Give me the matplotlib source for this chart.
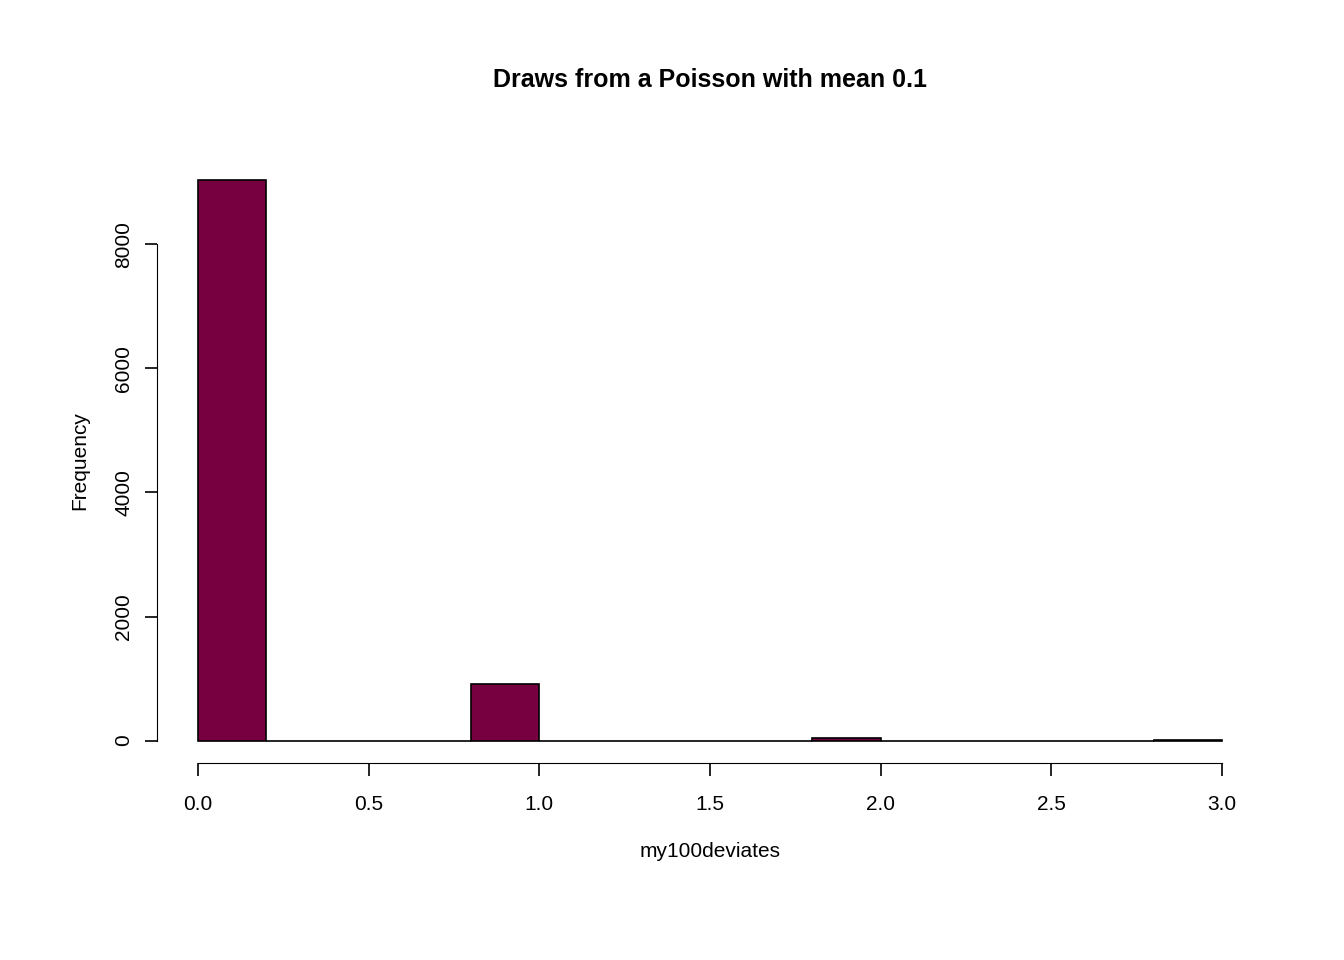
import matplotlib
matplotlib.use("Agg")
import matplotlib.pyplot as plt
import numpy as np

bin_edges = [round(0.2*i, 1) for i in range(16)]
counts = [9031, 0, 0, 0, 918, 0, 0, 0, 0, 45, 0, 0, 0, 0, 3]
xticks = [0.0, 0.5, 1.0, 1.5, 2.0, 2.5, 3.0]
yticks = [0, 2000, 4000, 6000, 8000]

plt.rcParams['font.family'] = ['Liberation Sans', 'DejaVu Sans']
fig = plt.figure(figsize=(13.44, 9.6), dpi=100)
ax = fig.add_axes([0.1168, 0.2052, 0.9397-0.1168, 0.8354-0.2052])
left = np.array(bin_edges[:-1])
ax.bar(left, counts, width=0.2, align='edge', color='#770040', edgecolor='black', linewidth=1.2)
ax.set_xlim(-0.12, 3.12)
ax.set_ylim(-0.04*9031, 9031*1.04)
for s in ['top', 'right']:
    ax.spines[s].set_visible(False)
ax.spines['left'].set_bounds(0, 8000)
ax.spines['bottom'].set_bounds(0, 3)
ax.set_xticks(xticks)
ax.set_xticklabels([f"{t:.1f}" for t in xticks])
ax.set_yticks(yticks)
ax.set_yticklabels([str(t) for t in yticks], rotation=90, va='center')
ax.tick_params(length=9, width=1.2, labelsize=15, pad=8)
ax.tick_params(axis='x', pad=14)
ax.set_xlabel('my100deviates', fontsize=15, labelpad=20)
ax.set_ylabel('Frequency', fontsize=15, labelpad=18)
fig.text(0.528, 0.917, 'Draws from a Poisson with mean 0.1', ha='center', va='center', fontsize=18, fontweight='bold')
fig.savefig('out.png', dpi=100)
